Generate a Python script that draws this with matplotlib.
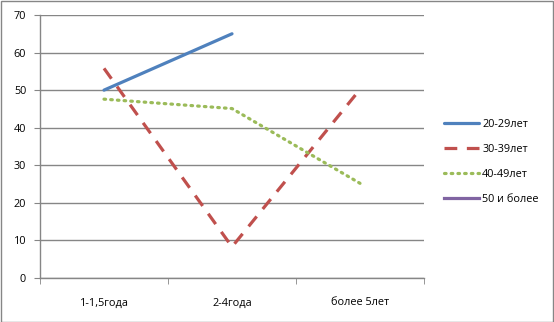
import numpy as np
import matplotlib
matplotlib.use("Agg")
import matplotlib.pyplot as plt
from matplotlib.patches import Rectangle

categories = ["1-1,5года", "2-4года", "более 5лет"]
s20 = [50, 65, np.nan]
s30 = [55.8, 8.3, 50.2]
s40 = [47.6, 45.1, 25.2]
s50 = [np.nan, np.nan, np.nan]
names = ["20-29лет", "30-39лет", "40-49лет", "50 и более"]

plt.rcParams['font.family'] = ['Open Sans', 'DejaVu Sans']
plt.rcParams['font.size'] = 7.8

fig = plt.figure(figsize=(5.54, 3.22), dpi=100)
ax = fig.add_axes([40 / 554, 44 / 322, 384 / 554, 263 / 322])

x = np.arange(len(categories))
grey = "#868686"
ax.plot(x, s20, color="#4F81BD", lw=2.3, solid_capstyle="round", label=names[0])
ax.plot(x, s30, color="#C0504D", lw=2.3, dashes=(4, 3), label=names[1])
ax.plot(x, s40, color="#9BBB59", lw=2.3, linestyle=(0, (0.5, 1.6)),
        dash_capstyle="round", label=names[2])
ax.plot(x, s50, color="#8064A2", lw=2.3, label=names[3])

ax.set_xlim(-0.5, 2.5)
ax.set_ylim(0, 70)
ax.set_yticks(range(0, 71, 10))
ax.yaxis.grid(True, color=grey, lw=1)
ax.set_axisbelow(True)
ax.set_xticks(x)
ax.set_xticklabels(categories)
ax.set_xticks([-0.5, 0.5, 1.5, 2.5], minor=True)
ax.tick_params(axis="x", which="major", length=0, pad=14)
ax.tick_params(axis="x", which="minor", length=4, color=grey, direction="out")
ax.tick_params(axis="y", length=4, color=grey, pad=6)
for s in ["top", "right"]:
    ax.spines[s].set_visible(False)
for s in ["left", "bottom"]:
    ax.spines[s].set_color(grey)
    ax.spines[s].set_linewidth(1)

fig.legend(loc="center left", bbox_to_anchor=(440 / 554, 1 - 162 / 322),
           frameon=False, handlelength=3.2, handletextpad=0.3,
           labelspacing=1.3, borderaxespad=0)

fig.patches.append(Rectangle((0.5 / 554, 0.5 / 322), 552.5 / 554, 320.5 / 322,
                             transform=fig.transFigure, fill=False,
                             edgecolor=grey, lw=1))

fig.savefig("out.png", dpi=100)
